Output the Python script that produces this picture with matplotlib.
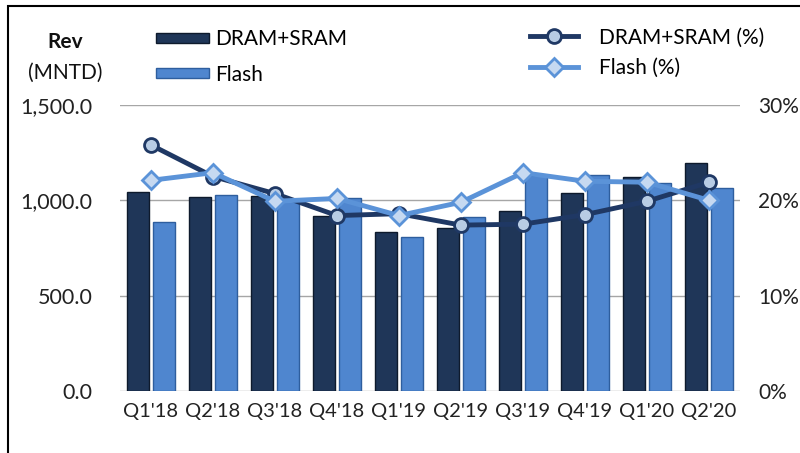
import matplotlib
matplotlib.use("Agg")
import matplotlib.pyplot as plt
import numpy as np
from matplotlib.lines import Line2D
from matplotlib.patches import Patch, Rectangle

categories = ["Q1'18", "Q2'18", "Q3'18", "Q4'18", "Q1'19", "Q2'19", "Q3'19", "Q4'19", "Q1'20", "Q2'20"]
dram_rev = [1045, 1015, 1025, 920, 832, 855, 946, 1040, 1120, 1194]
flash_rev = [888, 1028, 995, 1012, 806, 914, 1133, 1133, 1092, 1063]
dram_pct = [25.8, 22.5, 20.7, 18.4, 18.6, 17.4, 17.5, 18.5, 19.9, 21.9]
flash_pct = [22.1, 22.9, 19.9, 20.2, 18.4, 19.8, 22.9, 22.0, 21.9, 20.0]
left_ticks = [0, 500, 1000, 1500]
right_ticks = [0, 10, 20, 30]

FONT = "Lato"
plt.rcParams['font.family'] = [FONT, 'DejaVu Sans']

dark = "#1F3658"
dark_edge = "#0E1A2C"
light = "#4F86CF"
light_edge = "#2E5E9E"
line_dark = "#1F3864"
line_light = "#5B93D8"
txt = "#222222"

fig = plt.figure(figsize=(8, 4.53), dpi=100)
ax = fig.add_axes([0.15, 0.1369, 0.775, 0.6313])
x = np.arange(len(categories))
w = 0.34
ax.bar(x - 0.21, dram_rev, width=w, color=dark, edgecolor=dark_edge, linewidth=1.0, zorder=2)
ax.bar(x + 0.21, flash_rev, width=w, color=light, edgecolor=light_edge, linewidth=1.0, zorder=2)
ax.set_xlim(-0.5, 9.5)
ax.set_ylim(0, 1500)
ax.set_yticks(left_ticks)
ax.set_yticklabels([f"{v:,.1f}" for v in left_ticks], fontsize=15.5, color=txt)
ax.set_xticks(x)
ax.set_xticklabels(categories, fontsize=14.5, color=txt)
ax.tick_params(axis='both', length=0)
ax.tick_params(axis='y', pad=20)
ax.tick_params(axis='x', pad=9)
for v in left_ticks:
    ax.axhline(v, color="#A6A6A6", linewidth=1.0, zorder=1)
for s in ax.spines.values():
    s.set_visible(False)

ax2 = ax.twinx()
ax2.set_ylim(0, 30)
ax2.set_yticks(right_ticks)
ax2.set_yticklabels([f"{v}%" for v in right_ticks], fontsize=15, color=txt)
ax2.tick_params(axis='y', length=0, pad=13)
for s in ax2.spines.values():
    s.set_visible(False)
ax2.plot(x, dram_pct, color=line_dark, linewidth=3.5, marker='o', markersize=10,
         markerfacecolor="#B8CCE4", markeredgecolor=line_dark, markeredgewidth=2, zorder=3)
ax2.plot(x, flash_pct, color=line_light, linewidth=3.5, marker='D', markersize=9,
         markerfacecolor="#C6D9F1", markeredgecolor=line_light, markeredgewidth=2, zorder=4)

# Axis title
fig.text(65/800, 1 - 42/453, "Rev", fontsize=15, fontweight='bold', ha='center', va='center', color="#111111")
fig.text(65/800, 1 - 73/453, "(MNTD)", fontsize=15, ha='center', va='center', color="#111111")

# Legends
h1 = [Patch(facecolor=dark, edgecolor=dark_edge), Patch(facecolor=light, edgecolor=light_edge)]
leg1 = fig.legend(h1, ["DRAM+SRAM", "Flash"], loc='center left', bbox_to_anchor=(146/800, 1 - 57/453),
                  frameon=False, fontsize=15, handlelength=2.5, handleheight=0.35, handletextpad=0.3,
                  labelspacing=0.75, borderpad=0)
h2 = [Line2D([0], [0], color=line_dark, linewidth=3.5, marker='o', markersize=10,
             markerfacecolor="#B8CCE4", markeredgecolor=line_dark, markeredgewidth=2),
      Line2D([0], [0], color=line_light, linewidth=3.5, marker='D', markersize=9,
             markerfacecolor="#C6D9F1", markeredgecolor=line_light, markeredgewidth=2)]
leg2 = fig.legend(h2, ["DRAM+SRAM (%)", "Flash (%)"], loc='center left', bbox_to_anchor=(520/800, 1 - 53/453),
                  frameon=False, fontsize=15, handlelength=2.3, handletextpad=1.0,
                  labelspacing=0.5, borderpad=0)

# Border
fig.patches.append(Rectangle((8/800, -0.05), 1.05, 1 - 6/453 + 0.05, transform=fig.transFigure,
                             fill=False, edgecolor="black", linewidth=1.5))

fig.savefig("out.png", dpi=100)
